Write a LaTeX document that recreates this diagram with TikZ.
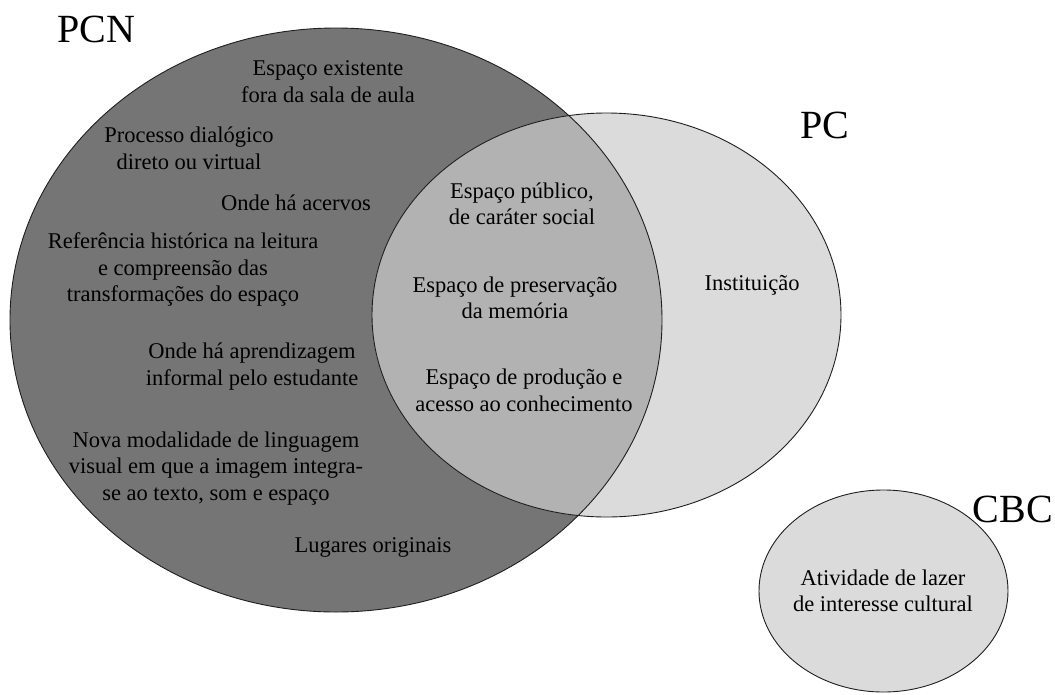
\documentclass[tikz,border=0pt]{standalone}
\usepackage{fontspec}
\setmainfont{Liberation Serif}
\definecolor{pcnfill}{gray}{0.46}
\definecolor{pcfill}{gray}{0.86}
\definecolor{bothfill}{gray}{0.70}
\definecolor{cbcfill}{gray}{0.86}
\definecolor{rim}{gray}{0.12}
\tikzset{
  rimline/.style={draw=rim, line width=0.9pt},
  lbl/.style={font=\fontsize{22.5}{26.5}\selectfont, align=center, inner sep=0pt},
  settitle/.style={font=\fontsize{40}{44}\selectfont, inner sep=0pt, anchor=base},
}
\begin{document}
\begin{tikzpicture}[x=1pt,y=-1pt]
  \useasboundingbox (0,0) rectangle (1055,694);
  % set geometry
  \coordinate (cpcn) at (336,320);
  \coordinate (cpc) at (606.5,315);
  \coordinate (ccbc) at (883.5,591);
  \def\pcnshape{(cpcn) ellipse [x radius=326pt, y radius=292pt]}
  \def\pcshape{(cpc) ellipse [x radius=234.5pt, y radius=202pt]}
  % fills
  \fill[pcnfill] \pcnshape;
  \fill[pcfill] \pcshape;
  \begin{scope}
    \clip \pcnshape;
    \fill[bothfill] \pcshape;
  \end{scope}
  \fill[cbcfill] (ccbc) ellipse [x radius=124.5pt, y radius=101pt];
  % outlines
  \draw[rimline] \pcnshape;
  \draw[rimline] \pcshape;
  \draw[rimline] (ccbc) ellipse [x radius=124.5pt, y radius=101pt];

  % set names
  \node[settitle] (tpcn) at (96,42) {PCN};
  \node[settitle] (tpc) at (825,138) {PC};
  \node[settitle, anchor=base east] (tcbc) at (1053,522) {CBC};

  % PCN only
  \node[lbl] (a1) at (328,81.5) {Espaço existente\\fora da sala de aula};
  \node[lbl] (a2) at (189,148.5) {Processo dialógico\\direto ou virtual};
  \node[lbl] (a3) at (296,203) {Onde há acervos};
  \node[lbl] (a4) at (183,269.5) {Referência histórica na leitura\\e compreensão das\\transformações do espaço};
  \node[lbl] (a5) at (252,366.5) {Onde há aprendizagem\\informal pelo estudante};
  \node[lbl] (a6) at (216,468.5) {Nova modalidade de linguagem\\visual em que a imagem integra-\\se ao texto, som e espaço};
  \node[lbl] (a7) at (373,547) {Lugares originais};

  % overlap
  \node[lbl] (b1) at (522,204) {Espaço público,\\de caráter social};
  \node[lbl] (b2) at (515,298) {Espaço de preservação\\da memória};
  \node[lbl] (b3) at (524,390.5) {Espaço de produção e\\acesso ao conhecimento};

  % PC only
  \node[lbl] (c1) at (752,285) {Instituição};

  % CBC
  \node[lbl] (d1) at (883,591) {Atividade de lazer\\de interesse cultural};
\end{tikzpicture}
\end{document}
